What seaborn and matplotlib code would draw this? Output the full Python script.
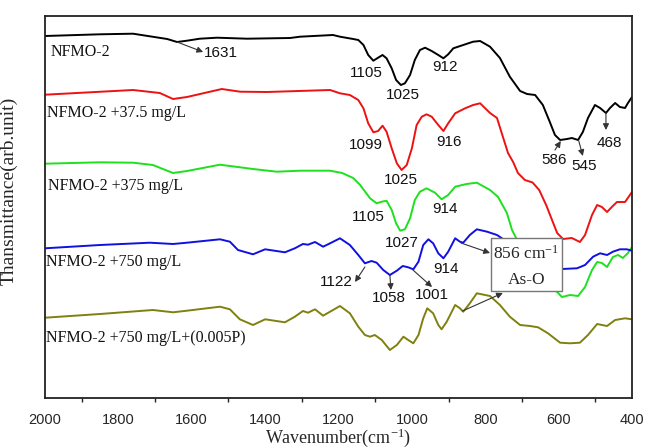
import matplotlib
matplotlib.use("Agg")
import matplotlib.pyplot as plt
import seaborn as sns
import pandas as pd
from matplotlib.patches import Rectangle
from matplotlib.ticker import MultipleLocator

# ---------------- data ----------------
samples = ["NFMO-2", "NFMO-2 +37.5 mg/L", "NFMO-2 +375 mg/L",
           "NFMO-2 +750 mg/L", "NFMO-2 +750 mg/L+(0.005P)"]

black_w = [2000, 1850, 1760, 1667, 1640, 1613, 1578, 1531, 1449, 1332,
           1305, 1215, 1196, 1160, 1146, 1132, 1119, 1105, 1092, 1080,
           1069, 1055, 1043, 1030, 1019, 1005, 992, 978, 964, 946,
           928, 914, 901, 887, 860, 833, 814, 787, 760, 733,
           705, 686, 664, 643, 624, 610, 596, 577, 564, 547,
           534, 520, 501, 487, 471, 460, 446, 433, 419, 411,
           400]
black_t = [362, 363.7, 364.3, 359, 356, 357.3, 359.3, 360.3, 359.3, 360,
           361.3, 363, 361.3, 359, 358, 353, 343, 337.3, 340.3, 343,
           339.7, 329.7, 318, 313, 314.7, 323, 338, 348, 350.3, 347,
           343, 339.7, 343.7, 349.7, 353, 356.3, 357, 351.3, 340, 321.3,
           307, 304, 303, 293, 276, 263, 258, 259, 260, 258,
           266, 280, 293, 290, 285, 290, 295, 291, 290, 295,
           301]

red_w = [2000, 1760, 1687, 1651, 1613, 1518, 1468, 1395, 1223, 1196,
         1169, 1146, 1132, 1119, 1105, 1092, 1080, 1069, 1055, 1041,
         1028, 1014, 1000, 987, 973, 960, 946, 928, 914, 901,
         882, 855, 833, 814, 787, 768, 752, 738, 724, 711,
         692, 671, 653, 634, 618, 604, 588, 564, 542, 528,
         509, 495, 482, 468, 455, 441, 419, 400]
red_t = [303.3, 308, 305, 299, 301, 309, 306.3, 306, 308, 304.7,
         303, 298, 289.7, 274.7, 265.7, 267, 272.3, 266.3, 249.7, 234.7,
         228, 233, 249.7, 273, 281.3, 283.7, 281.3, 273, 267, 274.7,
         284.7, 289.7, 293, 294.7, 285, 280, 261.3, 245, 236, 225,
         218, 215.5, 208, 193, 178, 165, 159, 160, 156, 163,
         183, 193, 191, 186, 191, 196, 196, 206]

green_w = [2000, 1850, 1760, 1706, 1651, 1613, 1523, 1433, 1368, 1305,
           1223, 1190, 1160, 1141, 1114, 1096, 1082, 1069, 1055, 1043,
           1032, 1019, 1005, 992, 978, 960, 937, 919, 901, 882,
           851, 823, 787, 765, 741, 727, 713, 659, 604, 591,
           569, 547, 528, 509, 495, 482, 468, 452, 438, 425,
           411, 400]
green_t = [234.3, 235.7, 235.3, 233, 225, 227, 233.3, 229, 226.3, 227.3,
           227.3, 225, 220, 213, 199.7, 194.7, 196.3, 197.3, 188, 174.7,
           167.3, 168.7, 179.7, 198, 206.3, 209.7, 205.3, 198.7, 203, 211.3,
           214, 215.3, 208, 201, 185, 168, 158, 123, 106, 101,
           103, 102, 111, 128, 136, 135, 131, 141, 143, 140,
           145, 151]

blue_w = [2000, 1850, 1714, 1651, 1613, 1523, 1496, 1474, 1433, 1400,
          1346, 1319, 1297, 1283, 1264, 1242, 1223, 1196, 1169, 1146,
          1128, 1110, 1096, 1078, 1060, 1041, 1025, 1010, 996, 982,
          969, 955, 942, 928, 914, 901, 882, 869, 860, 842,
          823, 795, 768, 686, 602, 591, 550, 528, 506, 487,
          468, 452, 433, 414, 400]
blue_t = [149.7, 153, 155.3, 154, 155.3, 158.7, 156.3, 148, 143.7, 148.7,
          145.7, 149.7, 154, 153.3, 156, 151.3, 154.7, 159.7, 153, 143,
          134.7, 137, 135.3, 128, 123, 127.3, 132, 130.7, 128.7, 136.3,
          153, 158.7, 154.7, 144.7, 139.7, 146.3, 159.7, 156.3, 155.3, 163,
          168.7, 166.3, 163, 143, 130, 129, 129.7, 133, 141.3, 144.7,
          143, 146.3, 148.7, 148.7, 147.3]

olive_w = [2000, 1850, 1706, 1651, 1613, 1523, 1496, 1469, 1433, 1400,
           1346, 1319, 1297, 1283, 1264, 1242, 1223, 1196, 1169, 1146,
           1128, 1114, 1101, 1082, 1060, 1041, 1023, 1010, 996, 982,
           969, 958, 942, 928, 919, 905, 882, 869, 860, 842,
           823, 787, 760, 733, 705, 678, 656, 629, 596, 569,
           542, 520, 495, 468, 446, 419, 400]
olive_t = [80.3, 84, 88, 85.7, 87.3, 91.3, 88.7, 78.7, 73, 78.7,
           75.7, 81.3, 87, 85.3, 88.7, 82.3, 86.3, 92, 84.7, 71.3,
           63, 61.3, 63, 58, 48, 53, 61.3, 58, 54.7, 63,
           79.7, 89.7, 84.7, 73, 68.7, 76.3, 93, 89.7, 86.3, 94.7,
           104.7, 102, 93, 81.3, 73, 72, 70.7, 64.7, 55.3, 54.7,
           55.3, 63, 74, 72, 78, 79.7, 78.7]

colors = ["#000000", "#ee1111", "#1ee01e", "#1010e0", "#808010"]
xticks = [2000, 1800, 1600, 1400, 1200, 1000, 800, 600, 400]
xtick_labels = [str(t) for t in xticks]

# ---------------- build table ----------------
series = [(black_w, black_t), (red_w, red_t), (green_w, green_t),
          (blue_w, blue_t), (olive_w, olive_t)]
frames = []
for name, (w, t) in zip(samples, series):
    frames.append(pd.DataFrame({"wavenumber": w, "T": t, "sample": name}))
df = pd.concat(frames, ignore_index=True)

# ---------------- style ----------------
sns.set_style("white")
plt.rcParams["font.family"] = ["Liberation Serif", "DejaVu Serif"]
plt.rcParams["mathtext.fontset"] = "custom"
plt.rcParams["mathtext.rm"] = "Liberation Serif"
plt.rcParams["mathtext.it"] = "Liberation Serif:italic"

fig = plt.figure(figsize=(6.46, 4.48), dpi=100)
ax = fig.add_axes([45 / 646, 50 / 448, 587 / 646, 382 / 448])

sns.lineplot(data=df, x="wavenumber", y="T", hue="sample",
             palette=dict(zip(samples, colors)), hue_order=samples,
             estimator=None, sort=False, legend=False, lw=1.4,
             solid_joinstyle="round", solid_capstyle="round", ax=ax)

ax.set_xlim(2000, 400)
ax.set_ylim(0, 382)
ax.set_yticks([])
ax.set_xticks(xticks)
ax.set_xticklabels(xtick_labels, fontfamily="Liberation Sans", fontsize=10.5)
ax.xaxis.set_minor_locator(MultipleLocator(100))
ax.tick_params(axis="x", which="major", direction="out", length=4,
               width=1.0, color="#222222", pad=6.5, top=False)
ax.tick_params(axis="x", which="minor", direction="out", length=3,
               width=1.0, color="#222222", top=False, bottom=True)
for s in ax.spines.values():
    s.set_linewidth(1.3)
    s.set_color("#222222")

ax.set_xlabel("Wavenumber(cm$^{-1}$)", fontsize=13, labelpad=0)
ax.set_ylabel("Thansmittance(arb.unit)", fontsize=14)
ax.yaxis.set_label_coords(-0.046, 0.542)

# sample labels
lab_kw = dict(fontsize=11.5, ha="left", va="center", color="#111111")
ax.text(1986, 346, samples[0], **lab_kw)
ax.text(1995, 285, samples[1], **lab_kw)
ax.text(1992, 212, samples[2], **lab_kw)
ax.text(1997, 136, samples[3], **lab_kw)
ax.text(1997, 60, samples[4], **lab_kw)

# peak labels
pk = dict(fontsize=11, ha="center", va="center", fontfamily="Liberation Sans",
          color="#111111")
peaks = [("1631", 1520, 345), ("1105", 1125, 325), ("1025", 1024, 303),
         ("912", 910, 331), ("586", 613, 238), ("545", 531, 232),
         ("468", 463, 255), ("1099", 1125, 253), ("1025", 1030, 218),
         ("916", 899, 256), ("1105", 1120, 181), ("1027", 1027, 155),
         ("914", 910, 189), ("1122", 1207, 116), ("1058", 1062, 100),
         ("1001", 945, 103), ("914", 907, 129)]
for txt, x, y in peaks:
    ax.text(x, y, txt, **pk)

arrow_kw = dict(arrowstyle="-|>", lw=0.8, color="#333333",
                mutation_scale=9, shrinkA=0, shrinkB=0)
arrows = [((1640, 356), (1569, 346)), ((610, 248), (594, 257)),
          ((545, 257), (534, 242)), ((471, 285), (471, 268)),
          ((1128, 131), (1155, 116)), ((1060, 123), (1057, 108)),
          ((997, 128), (945, 111)), ((866, 155), (787, 145)),
          ((862, 87), (752, 105))]
for tail, head in arrows:
    ax.annotate("", xy=head, xytext=tail, arrowprops=arrow_kw, zorder=4)

# As-O box
ax.add_patch(Rectangle((591, 107), 193, 53, facecolor="white",
                       edgecolor="#777777", lw=1.0, zorder=5))
ax.text(688, 144, "856 cm$^{-1}$", fontsize=12.5, ha="center", va="center",
        zorder=6)
ax.text(688, 118, "As-O", fontsize=12.5, ha="center", va="center", zorder=6)

fig.savefig("out.png", dpi=100)
